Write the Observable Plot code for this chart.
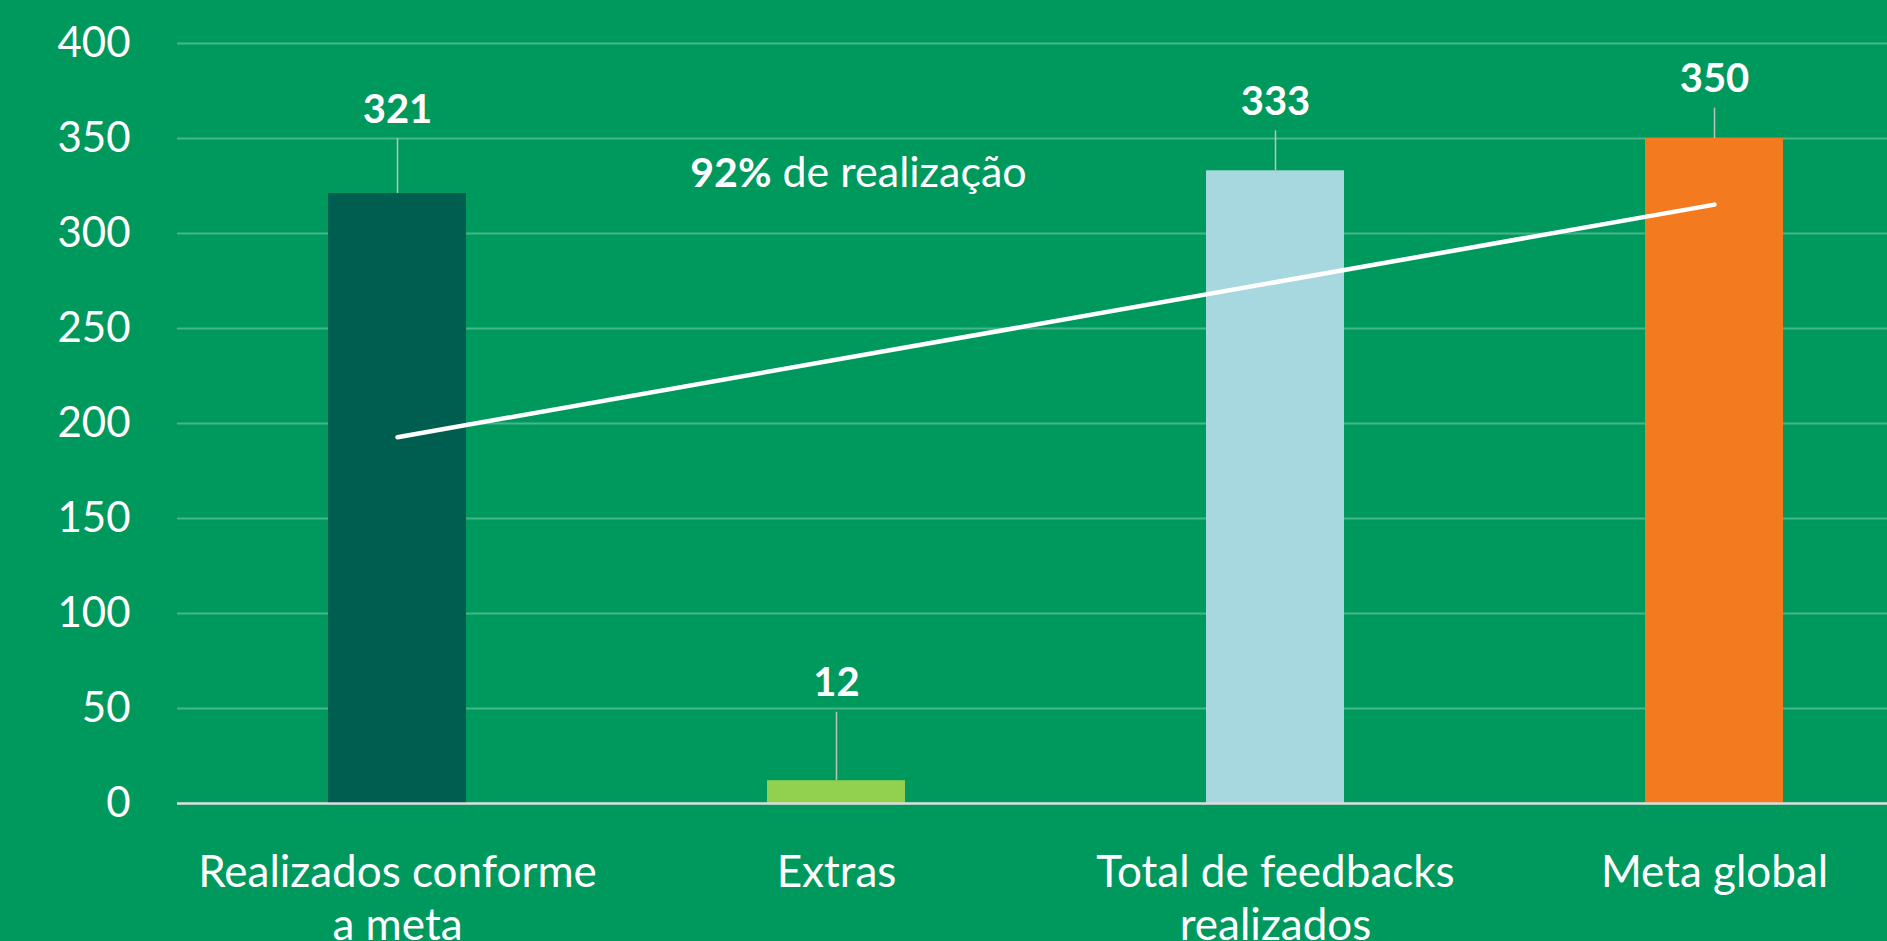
<!DOCTYPE html>
<html>
<head>
<meta charset="utf-8">
<script src="https://cdn.jsdelivr.net/npm/d3@7"></script>
<script src="https://cdn.jsdelivr.net/npm/@observablehq/plot@0.6"></script>
<style>
  html, body { margin: 0; padding: 0; background: #00995D; overflow: hidden; }
  #chart svg { display: block; }
</style>
</head>
<body>
<div id="chart"></div>
<script>
// ---- data ----
const categories = ["Realizados conforme a meta", "Extras", "Total de feedbacks realizados", "Meta global"];
const categoryLabels = ["Realizados conforme\na meta", "Extras", "Total de feedbacks\nrealizados", "Meta global"];
const values = [321, 12, 333, 350];
const barColors = ["#005E50", "#92D050", "#A8D8DF", "#F47A20"];
const yTicks = [0, 50, 100, 150, 200, 250, 300, 350, 400];
// callout (leader line) tops, in value units
const calloutTop = [350, 48, 354, 366];

const rows = categories.map((c, i) => ({cat: c, label: categoryLabels[i], value: values[i], color: barColors[i], top: calloutTop[i]}));

// linear trendline over the four bars (least squares on bar index)
const n = values.length;
const mx = (n - 1) / 2;
const my = d3.mean(values);
const slope = d3.sum(values, (v, i) => (i - mx) * (v - my)) / d3.sum(values, (v, i) => (i - mx) ** 2);
const trend = [0, n - 1].map(i => ({cat: categories[i], y: my + slope * (i - mx)}));

// achievement percentage
const pct = Math.round(values[0] / values[3] * 100) + "%";

const font = "Lato, 'Open Sans', sans-serif";

const chart = Plot.plot({
  width: 1887,
  height: 941,
  marginLeft: 177,
  marginRight: 0,
  marginTop: 43,
  marginBottom: 138,
  style: {background: "#00995D", fontFamily: font, color: "white", overflow: "visible"},
  x: {domain: categories, range: [177, 1933], paddingInner: 0.686, paddingOuter: 0.343, axis: null},
  y: {domain: [0, 400], axis: null},
  marks: [
    Plot.gridY(yTicks, {stroke: "white", strokeOpacity: 0.28, strokeWidth: 2}),
    Plot.axisY(yTicks, {tickSize: 0, tickPadding: 47, fontSize: 42, fill: "white", label: null, fontFamily: font}),
    Plot.barY(rows, {x: "cat", y: "value", fill: "color"}),
    Plot.ruleY([0], {stroke: "#DCDCDC", strokeWidth: 2.5}),
    Plot.ruleX(rows, {x: "cat", y1: "value", y2: "top", stroke: "#C0C0C0", strokeWidth: 1.5}),
    Plot.text(rows, {x: "cat", y: "top", text: d => String(d.value), dy: -16, lineAnchor: "bottom", fontSize: 40, fontWeight: "bold", fill: "white", fontFamily: font}),
    Plot.line(trend, {x: "cat", y: "y", stroke: "white", strokeWidth: 4.5, strokeLinecap: "round"}),
    Plot.text(rows, {x: "cat", text: "label", frameAnchor: "bottom", lineAnchor: "top", dy: 46, lineHeight: 1.2, fontSize: 44, fill: "white", fontFamily: font}),
    Plot.text([pct], {frameAnchor: "top-left", dx: 594, dy: 143, textAnchor: "end", lineAnchor: "bottom", fontSize: 41, fontWeight: "bold", fill: "white", fontFamily: font}),
    Plot.text([" de realização"], {frameAnchor: "top-left", dx: 594, dy: 143, textAnchor: "start", lineAnchor: "bottom", fontSize: 43, fill: "white", fontFamily: font})
  ]
});

document.getElementById("chart").appendChild(chart);
</script>
</body>
</html>
